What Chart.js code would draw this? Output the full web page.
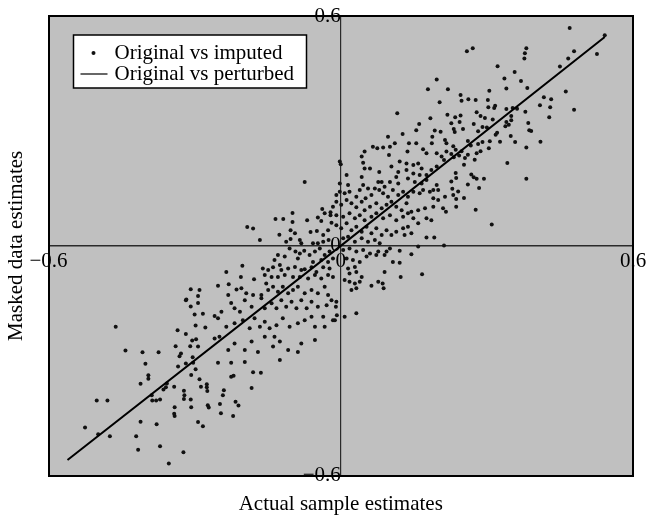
<!DOCTYPE html>
<html>
<head>
<meta charset="utf-8">
<script src="https://cdn.jsdelivr.net/npm/chart.js@4.4.1/dist/chart.umd.min.js"></script>
<style>
  html, body { margin: 0; padding: 0; background: #fff; }
  canvas { display: block; }
</style>
</head>
<body>
<canvas id="chart" width="650" height="520"></canvas>
<script>
const tickValues = [-0.6, 0, 0.6];
const xTitle = 'Actual sample estimates';
const yTitle = 'Masked data estimates';
const legendLabels = ['Original vs imputed', 'Original vs perturbed'];

// [actual sample estimate, imputed data estimate]
const imputedPoints = [
  // lower-left tail
  [-0.462,-0.211],[-0.442,-0.273],[-0.407,-0.278],[-0.374,-0.278],[-0.401,-0.308],[-0.395,-0.338],
  [-0.395,-0.347],[-0.411,-0.360],[-0.501,-0.404],[-0.479,-0.404],[-0.525,-0.474],[-0.498,-0.492],
  [-0.474,-0.497],[-0.411,-0.459],[-0.420,-0.497],[-0.416,-0.532],[-0.378,-0.466],[-0.371,-0.523],
  [-0.353,-0.568],[-0.323,-0.539],[-0.388,-0.390],[-0.387,-0.404],[-0.379,-0.404],[-0.371,-0.401],
  [-0.364,-0.375],[-0.359,-0.369],[-0.357,-0.359],[-0.342,-0.368],[-0.341,-0.421],[-0.342,-0.438],
  [-0.341,-0.444],[-0.322,-0.378],[-0.321,-0.390],[-0.322,-0.400],[-0.308,-0.401],[-0.307,-0.421],
  [-0.293,-0.460],[-0.283,-0.471],[-0.290,-0.348],[-0.287,-0.368],[-0.275,-0.361],[-0.275,-0.369],
  [-0.274,-0.379],[-0.273,-0.416],[-0.271,-0.422],[-0.334,-0.315],[-0.318,-0.307],[-0.304,-0.291],
  [-0.303,-0.305],[-0.298,-0.322],[-0.307,-0.337],[-0.339,-0.262],[-0.328,-0.281],[-0.331,-0.288],
  [-0.335,-0.220],[-0.318,-0.230],[-0.309,-0.262],[-0.305,-0.247],[-0.297,-0.244],[-0.293,-0.263],
  [-0.298,-0.208],[-0.278,-0.213],[-0.300,-0.179],[-0.283,-0.177],[-0.308,-0.158],[-0.293,-0.149],
  [-0.318,-0.142],
  [-0.221,-0.444],[-0.210,-0.417],[-0.216,-0.407],[-0.246,-0.437],[-0.248,-0.413],[-0.242,-0.390],
  [-0.240,-0.377],[-0.225,-0.342],[-0.220,-0.339],[-0.183,-0.371],[-0.180,-0.330],[-0.164,-0.331],
  // lower-middle band
  [-0.074,0.167],[-0.192,0.049],[-0.180,0.045],[-0.166,0.015],[-0.134,0.070],[-0.118,0.070],
  [-0.099,0.086],[-0.099,0.062],[-0.126,0.029],[-0.103,0.041],[-0.094,0.033],[-0.069,0.067],
  [-0.047,0.074],[-0.040,0.065],[-0.038,0.096],[-0.033,0.085],[-0.021,0.088],[-0.019,0.060],
  [-0.016,0.102],[-0.021,0.080],[-0.062,0.036],[-0.049,0.039],[-0.036,0.028],[-0.026,0.041],
  [-0.112,0.011],[-0.103,0.018],[-0.084,0.015],[-0.081,0.007],[-0.057,0.007],[-0.047,0.007],
  [-0.036,0.011],[-0.025,0.015],
  [-0.105,-0.007],[-0.093,-0.015],[-0.084,-0.020],[-0.075,-0.013],[-0.064,-0.024],[-0.053,-0.015],
  [-0.043,-0.007],[-0.033,-0.024],[-0.023,-0.015],[-0.016,-0.033],[-0.115,-0.028],[-0.129,-0.024],
  [-0.136,-0.037],[-0.088,-0.033],[-0.057,-0.042],[-0.040,-0.037],[-0.026,-0.042],
  [-0.202,-0.052],[-0.160,-0.059],[-0.149,-0.063],[-0.139,-0.056],[-0.125,-0.050],[-0.122,-0.063],
  [-0.108,-0.059],[-0.094,-0.055],[-0.081,-0.063],[-0.074,-0.061],[-0.060,-0.056],[-0.050,-0.068],
  [-0.036,-0.056],[-0.023,-0.059],[-0.235,-0.068],[-0.205,-0.081],[-0.178,-0.087],[-0.156,-0.076],
  [-0.142,-0.081],[-0.129,-0.081],[-0.115,-0.076],[-0.098,-0.081],[-0.084,-0.081],[-0.067,-0.085],
  [-0.053,-0.076],[-0.040,-0.085],[-0.026,-0.076],[-0.016,-0.081],
  [-0.252,-0.104],[-0.230,-0.100],[-0.214,-0.114],[-0.204,-0.111],[-0.194,-0.124],[-0.180,-0.128],
  [-0.163,-0.128],[-0.149,-0.115],[-0.139,-0.107],[-0.129,-0.120],[-0.119,-0.107],[-0.108,-0.124],
  [-0.098,-0.115],[-0.088,-0.107],[-0.074,-0.124],[-0.060,-0.115],[-0.047,-0.124],[-0.033,-0.107],
  [-0.026,-0.128],[-0.153,-0.098],[-0.231,-0.128],[-0.308,-0.113],[-0.290,-0.115],[-0.317,-0.140],
  [-0.293,-0.131],
  [-0.225,-0.149],[-0.197,-0.142],[-0.183,-0.159],[-0.163,-0.137],[-0.156,-0.163],[-0.142,-0.150],
  [-0.132,-0.163],[-0.122,-0.142],[-0.112,-0.159],[-0.101,-0.146],[-0.091,-0.163],[-0.081,-0.142],
  [-0.070,-0.163],[-0.060,-0.146],[-0.047,-0.159],[-0.029,-0.155],[-0.019,-0.142],[-0.207,-0.172],
  [-0.218,-0.163],[-0.245,-0.172],[-0.259,-0.183],
  [-0.252,-0.189],[-0.235,-0.211],[-0.218,-0.202],[-0.201,-0.194],[-0.187,-0.215],[-0.177,-0.189],
  [-0.166,-0.211],[-0.156,-0.198],[-0.146,-0.215],[-0.132,-0.207],[-0.119,-0.189],[-0.105,-0.211],
  [-0.088,-0.202],[-0.074,-0.194],[-0.060,-0.185],[-0.053,-0.211],[-0.036,-0.185],[-0.033,-0.211],
  [-0.016,-0.194],
  [-0.259,-0.242],[-0.249,-0.237],[-0.231,-0.272],[-0.218,-0.255],[-0.197,-0.272],[-0.183,-0.250],
  [-0.170,-0.277],[-0.156,-0.237],[-0.136,-0.237],[-0.125,-0.250],[-0.139,-0.263],[-0.108,-0.272],
  [-0.125,-0.298],[-0.081,-0.255],[-0.088,-0.277],[-0.053,-0.246],[-0.252,-0.305],[-0.225,-0.305],
  [-0.197,-0.303],
  // centre
  [-0.002,0.220],[0.000,0.213],[0.161,0.318],[0.193,0.301],[0.205,0.298],[0.155,0.302],
  [0.097,0.285],[0.127,0.292],[0.140,0.268],[0.155,0.268],[0.188,0.285],[0.187,0.268],
  [0.214,0.276],[0.217,0.268],[0.066,0.259],[0.075,0.255],[0.087,0.257],[0.101,0.259],
  [0.111,0.268],[0.137,0.246],[0.169,0.252],[0.176,0.242],[0.197,0.242],[0.207,0.233],
  [0.043,0.233],[0.049,0.246],[0.099,0.237],[0.217,0.246],[0.212,0.224],
  [0.046,0.217],[0.049,0.202],[0.060,0.202],[0.079,0.193],[0.121,0.220],[0.135,0.215],
  [0.104,0.207],[0.118,0.193],[0.149,0.211],[0.159,0.215],[0.166,0.202],[0.135,0.198],
  [0.149,0.189],[0.162,0.185],[0.176,0.185],[0.186,0.198],[0.197,0.207],[0.012,0.185],
  [0.043,0.180],[0.077,0.167],[0.084,0.167],[0.101,0.167],[0.114,0.180],[0.118,0.163],
  [0.138,0.176],[0.152,0.167],[0.166,0.163],[0.176,0.172],[-0.002,0.163],[0.015,0.159],
  [0.046,0.159],[0.056,0.150],[0.070,0.150],[0.090,0.154],[0.197,0.159],[0.200,0.146],
  [0.190,0.146],
  [-0.009,0.133],[-0.002,0.141],[0.008,0.137],[0.018,0.141],[0.039,0.146],[0.032,0.128],
  [0.051,0.124],[0.063,0.133],[0.079,0.146],[0.087,0.137],[0.097,0.128],[0.107,0.146],
  [0.118,0.133],[0.128,0.141],[0.138,0.128],[0.149,0.141],[0.162,0.137],[0.169,0.146],
  [0.183,0.141],[0.190,0.124],[0.200,0.120],[0.214,0.128],
  [-0.009,0.115],[0.001,0.107],[0.012,0.120],[0.022,0.111],[0.032,0.101],[0.043,0.115],
  [0.049,0.093],[0.060,0.102],[0.073,0.111],[0.084,0.098],[0.094,0.107],[0.104,0.115],
  [0.114,0.102],[0.125,0.093],[0.135,0.111],[0.145,0.089],[0.159,0.093],[0.173,0.098],
  [0.190,0.102],[0.210,0.098],
  [-0.009,0.080],[0.005,0.076],[0.018,0.085],[0.029,0.072],[0.039,0.080],[0.049,0.067],
  [0.063,0.076],[0.073,0.085],[0.087,0.072],[0.101,0.080],[0.114,0.067],[0.128,0.076],
  [0.138,0.085],[0.149,0.072],[0.159,0.059],[0.176,0.072],[0.186,0.067],[0.216,0.089],
  [-0.009,0.054],[0.001,0.046],[0.012,0.059],[0.022,0.041],[0.032,0.050],[0.043,0.037],
  [0.053,0.050],[0.063,0.033],[0.073,0.046],[0.084,0.028],[0.094,0.041],[0.104,0.028],
  [0.114,0.037],[0.128,0.046],[0.138,0.050],[0.145,0.033],[0.131,0.028],[0.176,0.022],
  [0.192,0.022],[0.005,0.020],[0.015,0.024],[0.029,0.011],[0.043,0.020],[0.056,0.011],
  [0.070,0.015],[0.080,0.007],
  [0.005,-0.011],[0.018,-0.007],[0.032,-0.015],[0.046,-0.011],[0.060,-0.020],[0.077,-0.015],
  [0.094,-0.015],[0.101,-0.007],[0.121,-0.013],[0.145,-0.022],[0.159,-0.002],[0.212,0.001],
  [0.012,-0.033],[0.025,-0.037],[0.039,-0.042],[0.053,-0.028],[0.073,-0.024],[0.090,-0.024],
  [0.107,-0.042],[0.121,-0.044],[0.015,-0.059],[0.029,-0.055],[0.018,-0.072],[0.032,-0.068],
  [0.043,-0.081],[0.090,-0.068],[0.123,-0.081],[0.167,-0.074],
  [0.008,-0.089],[0.018,-0.094],[0.029,-0.098],[0.039,-0.094],[0.022,-0.115],[0.032,-0.111],
  [0.063,-0.104],[0.077,-0.094],[0.086,-0.098],[0.088,-0.111],
  [-0.009,-0.146],[-0.010,-0.159],[-0.008,-0.181],[-0.012,-0.194],[0.008,-0.185],[0.032,-0.176],
  [0.310,0.056],[0.116,0.346],
  // upper-right tail
  [0.470,0.569],[0.542,0.550],[0.479,0.508],[0.467,0.489],[0.526,0.501],[0.450,0.468],
  [0.462,0.403],[0.479,0.355],[0.259,0.508],[0.271,0.516],[0.381,0.516],[0.378,0.503],
  [0.377,0.489],[0.322,0.469],[0.357,0.454],[0.336,0.437],[0.370,0.430],[0.197,0.434],
  [0.179,0.409],[0.220,0.409],[0.340,0.411],[0.383,0.412],[0.305,0.405],[0.246,0.394],
  [0.248,0.379],[0.262,0.383],[0.277,0.381],[0.302,0.381],[0.203,0.375],[0.317,0.366],
  [0.315,0.360],[0.303,0.362],[0.417,0.388],[0.432,0.383],[0.409,0.367],[0.430,0.362],
  [0.428,0.336],[0.184,0.333],[0.340,0.357],[0.353,0.360],[0.362,0.358],[0.379,0.350],
  [0.279,0.349],[0.287,0.339],[0.296,0.334],[0.219,0.342],[0.235,0.336],[0.246,0.340],
  [0.312,0.330],[0.350,0.339],[0.350,0.328],
  [0.227,0.320],[0.232,0.305],[0.234,0.297],[0.244,0.323],[0.251,0.305],[0.273,0.318],
  [0.291,0.310],[0.282,0.299],[0.300,0.309],[0.321,0.295],[0.318,0.290],[0.340,0.323],
  [0.338,0.312],[0.345,0.316],[0.349,0.287],[0.385,0.321],[0.387,0.302],[0.391,0.300],
  [0.358,0.271],[0.327,0.272],[0.410,0.272],[0.381,0.257],[0.261,0.274],[0.282,0.266],
  [0.291,0.271],[0.306,0.273],[0.304,0.255],[0.231,0.260],[0.236,0.251],[0.248,0.247],
  [0.267,0.262],[0.279,0.242],[0.287,0.247],[0.255,0.229],[0.261,0.238],[0.227,0.240],
  [0.232,0.231],[0.243,0.236],[0.253,0.212],[0.275,0.225],[0.268,0.186],[0.273,0.179],
  [0.279,0.175],[0.294,0.175],[0.284,0.151],[0.261,0.160],[0.342,0.216],[0.381,0.175],
  [0.227,0.168],[0.236,0.190],[0.237,0.177],[0.229,0.149],[0.241,0.142],[0.231,0.133],
  [0.237,0.122],[0.253,0.125],[0.237,0.102],[0.277,0.094]
];

// original vs perturbed
const perturbedX = [-0.561, 0, 0.542];
const perturbedY = [-0.559, 0, 0.545];

const serif = '"Liberation Serif", "Times New Roman", serif';
const textFont = { family: serif, size: 21, lineHeight: 1.2 };

function tickLabel(value) {
  if (value === 0) return '0';
  return (value < 0 ? '\u2212' : '') + Math.abs(value).toFixed(1);
}

function fixTicks(axis) {
  axis.ticks = tickValues.map((v) => ({ value: v }));
}

const plotBackground = {
  id: 'plotBackground',
  beforeDraw(chart) {
    const { ctx, chartArea } = chart;
    ctx.save();
    ctx.fillStyle = '#c0c0c0';
    ctx.fillRect(chartArea.left, chartArea.top, chartArea.width, chartArea.height);
    ctx.restore();
  },
};

const boxLegend = {
  id: 'boxLegend',
  afterDraw(chart) {
    const { ctx, chartArea } = chart;
    const x0 = chartArea.left + 25;
    const y0 = chartArea.top + 19;
    ctx.save();
    ctx.fillStyle = '#fff';
    ctx.fillRect(x0, y0, 233, 53);
    ctx.strokeStyle = '#000';
    ctx.lineWidth = 1.5;
    ctx.strokeRect(x0, y0, 233, 53);

    ctx.fillStyle = '#111';
    ctx.beginPath();
    ctx.arc(x0 + 20, y0 + 18, 2, 0, Math.PI * 2);
    ctx.fill();

    ctx.lineWidth = 1.2;
    ctx.beginPath();
    ctx.moveTo(x0 + 7, y0 + 39);
    ctx.lineTo(x0 + 34, y0 + 39);
    ctx.stroke();

    ctx.fillStyle = '#000';
    ctx.font = '21px ' + serif;
    ctx.textBaseline = 'middle';
    ctx.fillText(legendLabels[0], x0 + 41, y0 + 18);
    ctx.fillText(legendLabels[1], x0 + 41, y0 + 39);
    ctx.restore();
  },
};

function frameAxis(axis, position, title) {
  const opts = {
    type: 'linear',
    axis: axis,
    position: position,
    grid: { display: false, drawTicks: false },
    ticks: { display: false },
    border: { color: '#000', width: 2 },
  };
  if (title) {
    opts.title = {
      display: true,
      text: title.text,
      color: '#000',
      font: textFont,
      padding: title.padding,
    };
  }
  return opts;
}

new Chart(document.getElementById('chart'), {
  type: 'scatter',
  data: {
    datasets: [
      {
        label: legendLabels[1],
        type: 'line',
        data: perturbedX.map((x, i) => ({ x: x, y: perturbedY[i] })),
        borderColor: '#000',
        borderWidth: 2,
        pointRadius: 0,
        fill: false,
        order: 0,
        xAxisID: 'x',
        yAxisID: 'y',
      },
      {
        label: legendLabels[0],
        data: imputedPoints.map((p) => ({ x: p[0], y: p[1] })),
        backgroundColor: '#111',
        borderWidth: 0,
        pointRadius: 2,
        order: 1,
        xAxisID: 'x',
        yAxisID: 'y',
      },
    ],
  },
  options: {
    responsive: false,
    animation: false,
    devicePixelRatio: 1,
    layout: { padding: { top: 16, right: 17, bottom: 0, left: 0 } },
    plugins: {
      legend: { display: false },
      tooltip: { enabled: false },
    },
    scales: {
      x: {
        type: 'linear',
        position: { y: 0 },
        min: -0.6,
        max: 0.6,
        afterBuildTicks: fixTicks,
        grid: { display: false, drawTicks: false },
        border: { color: '#2a2a2a', width: 1.5 },
        ticks: {
          color: '#000',
          font: textFont,
          padding: 3,
          maxRotation: 0,
          autoSkip: false,
          callback: tickLabel,
        },
      },
      y: {
        type: 'linear',
        position: { x: 0 },
        min: -0.6,
        max: 0.6,
        afterBuildTicks: fixTicks,
        // invisible tick marks give the label gap without extra top padding
        grid: { display: false, drawTicks: true, tickLength: 9 },
        border: { color: '#2a2a2a', width: 1.2 },
        ticks: {
          color: '#000',
          font: textFont,
          padding: 0,
          autoSkip: false,
          callback: tickLabel,
        },
      },
      xBottom: frameAxis('x', 'bottom', { text: xTitle, padding: { top: 15.7, bottom: 3.4 } }),
      yLeft: frameAxis('y', 'left', { text: yTitle, padding: { top: 4, bottom: 19.3 } }),
      xTop: frameAxis('x', 'top'),
      yRight: frameAxis('y', 'right'),
    },
  },
  plugins: [plotBackground, boxLegend],
});
</script>
</body>
</html>
